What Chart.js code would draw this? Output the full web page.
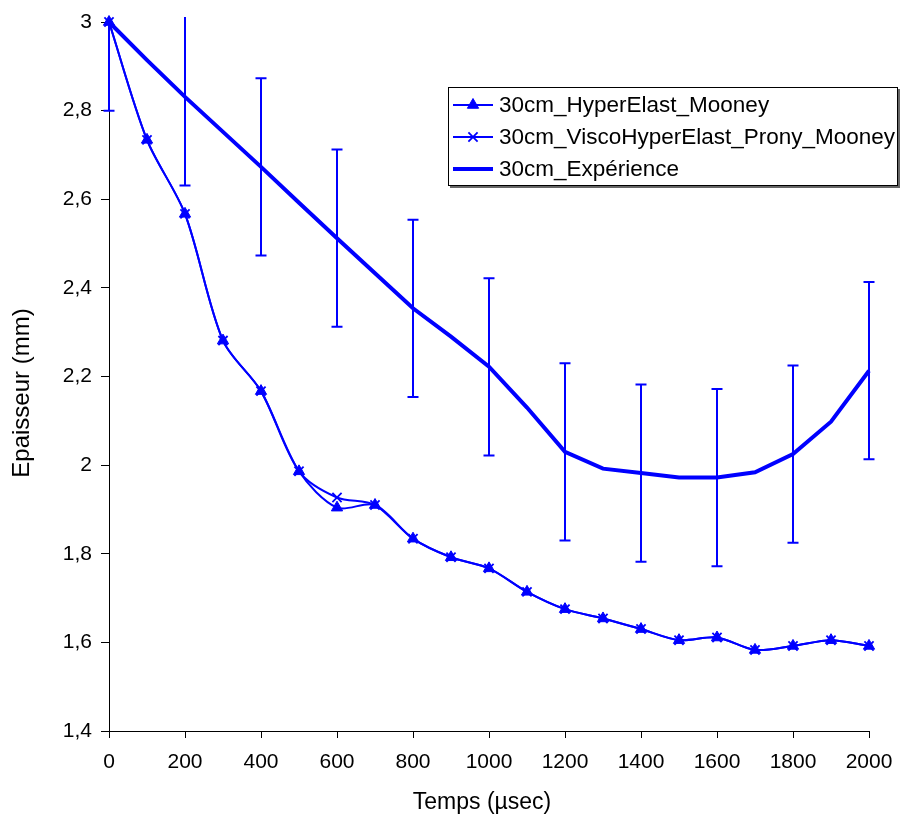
<!DOCTYPE html>
<html>
<head>
<meta charset="utf-8">
<script src="https://cdn.jsdelivr.net/npm/chart.js@4/dist/chart.umd.min.js"></script>
<style>
html,body{margin:0;padding:0;background:#ffffff;}
#wrap{width:900px;height:820px;position:relative;}
</style>
</head>
<body>
<div id="wrap"><canvas id="c" width="900" height="820"></canvas></div>
<script>
// ---- data ----
const times = [0,100,200,300,400,500,600,700,800,900,1000,1100,1200,1300,1400,1500,1600,1700,1800,1900,2000];
const hyperElast = [3.0,2.734,2.567,2.281,2.167,1.986,1.904,1.910,1.834,1.792,1.767,1.714,1.675,1.654,1.630,1.605,1.611,1.583,1.592,1.605,1.592];
const viscoHyper = [3.0,2.734,2.567,2.281,2.167,1.986,1.927,1.910,1.834,1.792,1.767,1.714,1.675,1.654,1.630,1.605,1.611,1.583,1.592,1.605,1.592];
const experience = [3.0,2.914,2.831,2.752,2.673,2.592,2.512,2.433,2.354,2.290,2.222,2.130,2.030,1.992,1.982,1.972,1.972,1.984,2.025,2.098,2.213];
const errTimes = [0,200,400,600,800,1000,1200,1400,1600,1800,2000];
const errHalf = [0.2,0.2,0.2,0.2,0.2,0.2,0.2,0.2,0.2,0.2,0.2];
const seriesLabels = ['30cm_HyperElast_Mooney','30cm_ViscoHyperElast_Prony_Mooney','30cm_Expérience'];
const yTickValues = [1.4,1.6,1.8,2.0,2.2,2.4,2.6,2.8,3.0];
const yTickLabels = ['1,4','1,6','1,8','2','2,2','2,4','2,6','2,8','3'];
const xTickValues = [0,200,400,600,800,1000,1200,1400,1600,1800,2000];
const xTitle = 'Temps (µsec)';
const yTitle = 'Epaisseur (mm)';

const FONT = "'Liberation Sans', Arial, Helvetica, sans-serif";
const BLUE = '#0000ff';

const toXY = (ys) => times.map((t, i) => ({x: t, y: ys[i]}));

const errorBarPlugin = {
  id: 'errorBars',
  afterDatasetsDraw(chart) {
    const ctx = chart.ctx, xs = chart.scales.x, ys = chart.scales.y, a = chart.chartArea;
    ctx.save();
    ctx.beginPath();
    ctx.rect(a.left - 10, a.top - 5, a.right - a.left + 20, a.bottom - a.top + 10);
    ctx.clip();
    ctx.strokeStyle = BLUE;
    ctx.lineWidth = 2;
    errTimes.forEach((t, k) => {
      const idx = times.indexOf(t);
      const c = experience[idx];
      const px = xs.getPixelForValue(t);
      const pTop = ys.getPixelForValue(c + errHalf[k]);
      const pBot = ys.getPixelForValue(c - errHalf[k]);
      ctx.beginPath();
      ctx.moveTo(px, pTop); ctx.lineTo(px, pBot);
      ctx.moveTo(px - 5.5, pTop); ctx.lineTo(px + 5.5, pTop);
      ctx.moveTo(px - 5.5, pBot); ctx.lineTo(px + 5.5, pBot);
      ctx.stroke();
    });
    ctx.restore();
  }
};

const titlesPlugin = {
  id: 'axisTitles',
  afterDraw(chart) {
    const ctx = chart.ctx;
    ctx.save();
    ctx.fillStyle = '#000';
    ctx.textAlign = 'center';
    ctx.textBaseline = 'middle';
    ctx.font = '23px ' + FONT;
    ctx.fillText(xTitle, 482, 803);
    ctx.font = '24px ' + FONT;
    ctx.translate(22, 393);
    ctx.rotate(-Math.PI / 2);
    ctx.fillText(yTitle, 0, 0);
    ctx.restore();
  }
};

const legendPlugin = {
  id: 'boxLegend',
  afterDraw(chart) {
    const ctx = chart.ctx;
    const bx = 448, by = 87, bw = 450, bh = 99;
    ctx.save();
    ctx.fillStyle = '#fff';
    ctx.fillRect(bx, by, bw, bh);
    ctx.strokeStyle = '#666';
    ctx.lineWidth = 2;
    ctx.beginPath();
    ctx.moveTo(bx + 2, by + bh + 1); ctx.lineTo(bx + bw + 1, by + bh + 1); ctx.lineTo(bx + bw + 1, by + 2);
    ctx.stroke();
    ctx.strokeStyle = '#000';
    ctx.lineWidth = 1;
    ctx.strokeRect(bx + 0.5, by + 0.5, bw - 1, bh - 1);
    const rowsY = [105, 137, 169];
    chart.data.datasets.forEach((ds, i) => {
      const y = rowsY[i];
      ctx.strokeStyle = BLUE;
      ctx.lineWidth = ds.borderWidth;
      ctx.beginPath();
      ctx.moveTo(453, y); ctx.lineTo(493, y);
      ctx.stroke();
      if (ds.pointStyle && ds.pointRadius > 0) {
        ctx.fillStyle = BLUE;
        ctx.strokeStyle = BLUE;
        ctx.lineWidth = ds.pointBorderWidth;
        Chart.helpers.drawPoint(ctx, {pointStyle: ds.pointStyle, radius: ds.pointRadius, rotation: 0, borderWidth: ds.pointBorderWidth}, 473, y);
      }
      ctx.fillStyle = '#000';
      ctx.font = '22.5px ' + FONT;
      ctx.textAlign = 'left';
      ctx.textBaseline = 'middle';
      ctx.fillText(ds.label, 499, y + 1);
    });
    ctx.restore();
  }
};

new Chart(document.getElementById('c'), {
  type: 'line',
  data: {
    datasets: [
      {
        label: seriesLabels[0], data: toXY(hyperElast),
        borderColor: BLUE, backgroundColor: BLUE, borderWidth: 2, tension: 0.3,
        pointStyle: 'triangle', pointRadius: 6.5, pointBorderWidth: 1,
        pointBackgroundColor: BLUE, pointBorderColor: BLUE, clip: false
      },
      {
        label: seriesLabels[1], data: toXY(viscoHyper),
        borderColor: BLUE, backgroundColor: BLUE, borderWidth: 2, tension: 0.3,
        pointStyle: 'crossRot', pointRadius: 6.5, pointBorderWidth: 1.8,
        pointBackgroundColor: BLUE, pointBorderColor: BLUE, clip: false
      },
      {
        label: seriesLabels[2], data: toXY(experience),
        borderColor: BLUE, backgroundColor: BLUE, borderWidth: 4, tension: 0,
        pointRadius: 0, pointStyle: false, pointBorderWidth: 0, clip: false
      }
    ]
  },
  options: {
    responsive: false,
    devicePixelRatio: 1,
    animation: false,
    layout: { padding: { top: 22, right: 31, left: 0, bottom: 0 } },
    plugins: { legend: { display: false }, tooltip: { enabled: false } },
    scales: {
      x: {
        type: 'linear', min: 0, max: 2000,
        afterBuildTicks: (s) => { s.ticks = xTickValues.map(v => ({value: v})); },
        afterFit: (s) => { s.height = 89; s.paddingLeft = 0; s.paddingRight = 0; },
        grid: { display: true, drawOnChartArea: false, drawTicks: true, tickLength: 7, color: '#000', lineWidth: 1 },
        border: { display: true, color: '#000', width: 1 },
        ticks: { color: '#000', font: { family: FONT, size: 21 }, padding: 12, maxRotation: 0, autoSkip: false,
                 callback: (v) => String(v) },
        title: { display: false }
      },
      y: {
        type: 'linear', min: 1.4, max: 3,
        afterBuildTicks: (s) => { s.ticks = yTickValues.map(v => ({value: v})); },
        afterFit: (s) => { s.width = 109; s.paddingTop = 0; s.paddingBottom = 0; },
        grid: { display: true, drawOnChartArea: false, drawTicks: true, tickLength: 8, color: '#000', lineWidth: 1 },
        border: { display: true, color: '#000', width: 1 },
        ticks: { color: '#000', font: { family: FONT, size: 21 }, padding: 9, autoSkip: false,
                 callback: (v) => { const k = yTickValues.findIndex(t => Math.abs(t - v) < 1e-6); return k >= 0 ? yTickLabels[k] : ''; } },
        title: { display: false }
      }
    }
  },
  plugins: [errorBarPlugin, titlesPlugin, legendPlugin]
});
</script>
</body>
</html>
